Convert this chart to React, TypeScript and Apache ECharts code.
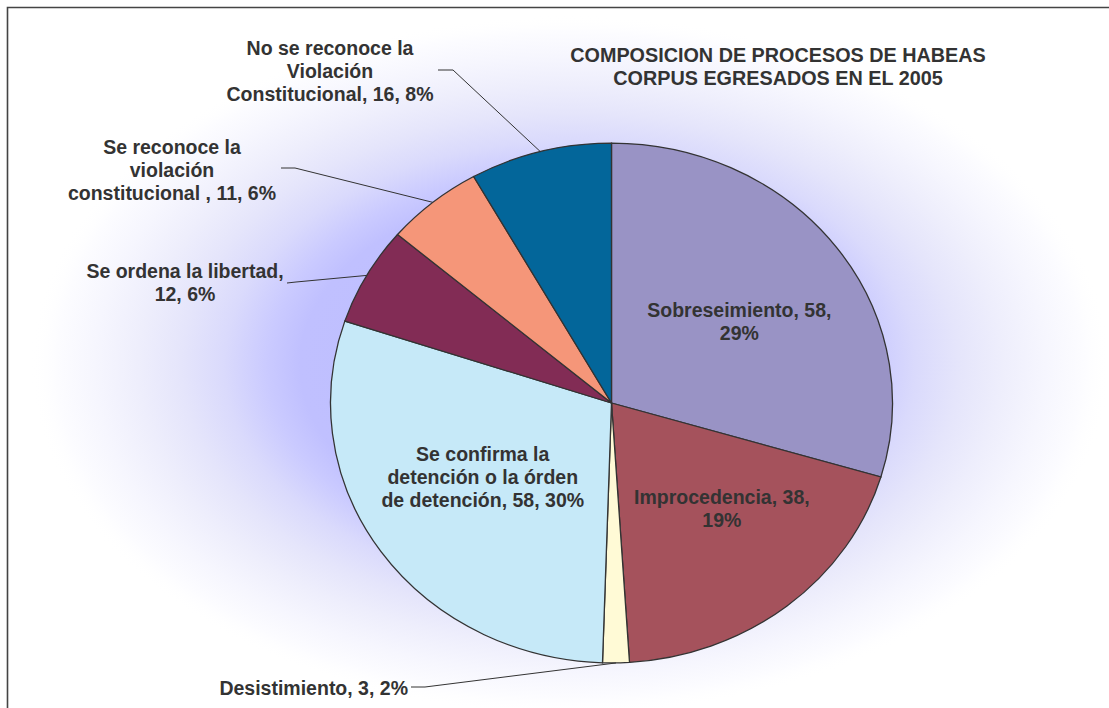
import React, { useEffect, useRef } from "react";
import * as echarts from "echarts";

// ---- data ----
const categories = [
  "Sobreseimiento",
  "Improcedencia",
  "Desistimiento",
  "Se confirma la detención o la órden de detención",
  "Se ordena la libertad",
  "Se reconoce la violación constitucional ",
  "No se reconoce la Violación Constitucional",
];
const values = [58, 38, 3, 58, 12, 11, 16];
const percents = ["29%", "19%", "2%", "30%", "6%", "6%", "8%"];
const labelTexts = [
  "Sobreseimiento, 58,\n29%",
  "Improcedencia, 38,\n19%",
  "Desistimiento, 3, 2%",
  "Se confirma la\ndetención o la órden\nde detención, 58, 30%",
  "Se ordena la libertad,\n12, 6%",
  "Se reconoce la\nviolación\nconstitucional , 11, 6%",
  "No se reconoce la\nViolación\nConstitucional, 16, 8%",
];
const titleText = "COMPOSICION DE PROCESOS DE HABEAS\nCORPUS EGRESADOS EN EL 2005";

// ---- styles / layout ----
const colors = ["#9993C5", "#A5525C", "#FFFAD6", "#C6E9F8", "#822C55", "#F59679", "#03669A"];
const CX = 611.5, CY = 403, RX = 281, RY = 260;
const INSIDE_FRAC = 0.55;
const insideNudge: Record<number, number[]> = { 0: [4, 4], 1: [14, -6], 3: [-2, -8] };
const FONT = "'Liberation Sans', Arial, Helvetica, sans-serif";
const outside: Record<number, { x: number; y: number; align: string; elbow: number[]; end: number[] }> = {
  2: { x: 408, y: 688, align: "right", elbow: [425, 687], end: [411, 687] },
  4: { x: 185, y: 282.5, align: "center", elbow: [296, 282], end: [287, 283] },
  5: { x: 172, y: 170, align: "center", elbow: [295, 168], end: [281, 168] },
  6: { x: 330, y: 71, align: "center", elbow: [453, 70], end: [438, 70] },
};

export default function App() {
  const ref = useRef<HTMLDivElement>(null);
  useEffect(() => {
    if (!ref.current) return;
    const chart = echarts.init(ref.current, undefined, { renderer: "svg" });
    const total = values.reduce((a, b) => a + b, 0);
    const cum: number[] = [];
    let acc = 0;
    values.forEach((v) => { cum.push(acc); acc += v; });

    const textStyle = {
      fontFamily: FONT,
      fontWeight: "bold",
      fontSize: 19.5,
      lineHeight: 23,
      fill: "#333333",
    };

    const option: any = {
      animation: false,
      backgroundColor: "#ffffff",
      graphic: [
        {
          type: "ellipse",
          silent: true,
          z: -10,
          shape: { cx: 570, cy: 365, rx: 540, ry: 350 },
          style: {
            fill: new echarts.graphic.RadialGradient(0.5, 0.5, 0.5, [
              { offset: 0, color: "#bcbcff" },
              { offset: 0.5, color: "#c0c0ff" },
              { offset: 0.56, color: "#cacaff" },
              { offset: 0.64, color: "#dadafc" },
              { offset: 0.72, color: "#e5e5fb" },
              { offset: 0.8, color: "#eeeefc" },
              { offset: 0.88, color: "#f6f6fe" },
              { offset: 0.95, color: "#fcfcff" },
              { offset: 1, color: "rgba(255,255,255,0)" },
            ]),
          },
        },
        {
          type: "polyline",
          silent: true,
          shape: { points: [[7.5, 708], [7.5, 7.5], [1109, 7.5]] },
          style: { stroke: "#444444", lineWidth: 1.6, fill: null },
        },
        {
          type: "text",
          silent: true,
          style: {
            ...textStyle,
            fontSize: 19.8,
            text: titleText,
            x: 778,
            y: 66.5,
            align: "center",
            verticalAlign: "middle",
          },
        },
      ],
      series: [
        {
          type: "custom",
          coordinateSystem: "none",
          data: values.map((v, i) => ({ value: v, name: categories[i], pct: percents[i] })),
          renderItem: (params: any, api: any) => {
            const i = params.dataIndex;
            const v = api.value(0) as number;
            const a0 = -Math.PI / 2 + (2 * Math.PI * cum[i]) / total;
            const a1 = a0 + (2 * Math.PI * v) / total;
            const mid = (a0 + a1) / 2;
            const children: any[] = [
              {
                type: "sector",
                x: CX,
                y: CY,
                scaleY: RY / RX,
                shape: { cx: 0, cy: 0, r: RX, r0: 0, startAngle: a0, endAngle: a1, clockwise: true },
                style: { fill: colors[i], stroke: "#333333", lineWidth: 1.3, strokeNoScale: true },
              },
            ];
            const out = outside[i];
            if (out) {
              const ex = CX + RX * Math.cos(mid);
              const ey = CY + RY * Math.sin(mid);
              children.push({
                type: "polyline",
                shape: { points: [[ex, ey], out.elbow, out.end] },
                style: { stroke: "#333333", lineWidth: 1, fill: null },
              });
              children.push({
                type: "text",
                style: { ...textStyle, text: labelTexts[i], x: out.x, y: out.y, align: out.align, verticalAlign: "middle" },
              });
            } else {
              const nudge = insideNudge[i] || [0, 0];
              children.push({
                type: "text",
                style: {
                  ...textStyle,
                  text: labelTexts[i],
                  x: CX + INSIDE_FRAC * RX * Math.cos(mid) + nudge[0],
                  y: CY + INSIDE_FRAC * RY * Math.sin(mid) + nudge[1],
                  align: "center",
                  verticalAlign: "middle",
                },
              });
            }
            return { type: "group", children };
          },
        },
      ],
    };
    chart.setOption(option);
    return () => chart.dispose();
  }, []);
  return (
    <div
      ref={ref}
      style={{ position: "fixed", left: 0, top: 0, width: 1109, height: 708 }}
    />
  );
}
